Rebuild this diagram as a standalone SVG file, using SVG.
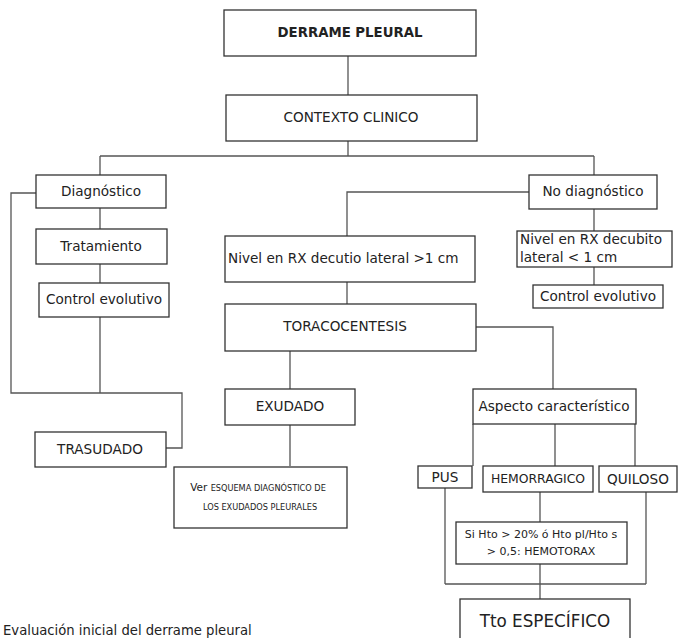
<svg xmlns="http://www.w3.org/2000/svg" width="680" height="638" viewBox="0 0 680 638">
<style>
.box{fill:#fff;stroke:#333;stroke-width:1.3}
.ln{fill:none;stroke:#555;stroke-width:1.3}
text{font-family:"DejaVu Sans","Verdana",sans-serif;fill:#222;font-size:13.6px}
.c{text-anchor:middle}
.b{font-weight:bold;font-size:13.3px}
.sc{font-size:8.2px}
</style>
<rect width="680" height="638" fill="#fff"/>
<g id="connectors">
<path class="ln" d="M348 56V95"/>
<path class="ln" d="M348 141V156M100 156H594M100 156V175M594 156V175"/>
<path class="ln" d="M100 208V229M100 264V283M100 317V393"/>
<path class="ln" d="M36 193H11V393H182V448H166"/>
<path class="ln" d="M529 192H347V236"/>
<path class="ln" d="M594 209V231M594 267V285"/>
<path class="ln" d="M347 282V304"/>
<path class="ln" d="M476 327H553V389"/>
<path class="ln" d="M290 351V389M290 425V466"/>
<path class="ln" d="M473 424V466M555 424V466M635 424V466"/>
<path class="ln" d="M445 488V584M540 492V522M540 564V599M646 492V584M445 584H646"/>
</g>
<g id="n-derrame"><rect class="box" x="224" y="10" width="252" height="46"/><text class="c b" x="350" y="37">DERRAME PLEURAL</text></g>
<g id="n-contexto"><rect class="box" x="226" y="95" width="251" height="46"/><text class="c" x="351" y="122">CONTEXTO CLINICO</text></g>
<g id="n-diag"><rect class="box" x="36" y="175" width="130" height="33"/><text class="c" x="101" y="196">Diagnóstico</text></g>
<g id="n-trat"><rect class="box" x="36" y="229" width="131" height="35"/><text class="c" x="101" y="251">Tratamiento</text></g>
<g id="n-control1"><rect class="box" x="39" y="283" width="130" height="34"/><text class="c" x="104" y="304">Control evolutivo</text></g>
<g id="n-trasudado"><rect class="box" x="35" y="432" width="131" height="35"/><text class="c" x="100" y="454">TRASUDADO</text></g>
<g id="n-nodiag"><rect class="box" x="529" y="175" width="128" height="34"/><text class="c" x="593" y="196">No diagnóstico</text></g>
<g id="n-nivel2"><rect class="box" x="517" y="231" width="155" height="36"/><text x="520" y="244">Nivel en RX decubito</text><text x="520" y="262">lateral &lt; 1 cm</text></g>
<g id="n-control2"><rect class="box" x="533" y="285" width="130" height="23"/><text class="c" x="598" y="301">Control evolutivo</text></g>
<g id="n-nivel1"><rect class="box" x="225" y="236" width="250" height="46"/><text x="228" y="263">Nivel en RX decutio lateral &gt;1 cm</text></g>
<g id="n-toraco"><rect class="box" x="225" y="304" width="251" height="47"/><text class="c" x="345" y="331">TORACOCENTESIS</text></g>
<g id="n-exudado"><rect class="box" x="225" y="389" width="130" height="36"/><text class="c" x="290" y="411">EXUDADO</text></g>
<g id="n-ver"><rect class="box" x="174" y="467" width="173" height="61"/><text class="c" x="258" y="491" style="font-size:10.5px">Ver <tspan class="sc">ESQUEMA DIAGNÓSTICO DE</tspan></text><text class="c sc" x="260" y="510">LOS EXUDADOS PLEURALES</text></g>
<g id="n-aspecto"><rect class="box" x="473" y="389" width="163" height="35"/><text class="c" x="554" y="411">Aspecto característico</text></g>
<g id="n-pus"><rect class="box" x="418" y="466" width="54" height="22"/><text class="c" x="445" y="482">PUS</text></g>
<g id="n-hemo"><rect class="box" x="483" y="466" width="110" height="26"/><text class="c" x="538" y="483" style="font-size:12.4px">HEMORRAGICO</text></g>
<g id="n-quiloso"><rect class="box" x="599" y="466" width="78" height="26"/><text class="c" x="638" y="484">QUILOSO</text></g>
<g id="n-hto"><rect class="box" x="456" y="522" width="171" height="42"/><text class="c" x="541" y="538" style="font-size:11px">Si Hto &gt; 20% ó Hto pl/Hto s</text><text class="c" x="541" y="555" style="font-size:11px">&gt; 0,5: HEMOTORAX</text></g>
<g id="n-tto"><rect class="box" x="460" y="599" width="170" height="50"/><text class="c" x="545" y="627" style="font-size:16.8px">Tto ESPECÍFICO</text></g>
<text x="3" y="635" style="font-size:13.2px">Evaluación inicial del derrame pleural</text>
</svg>
